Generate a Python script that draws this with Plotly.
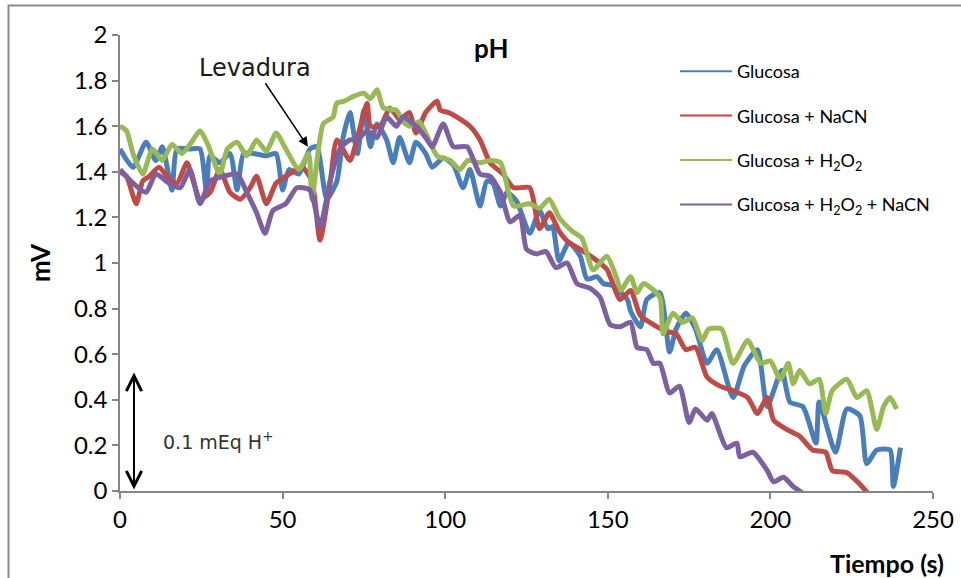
import plotly.graph_objects as go

# Time (s) and signal (mV) for each condition
t_glucosa = [0, 4, 8, 11, 13, 16, 17.5, 21.5, 24.6, 26.6, 27.7, 30.7, 33.8, 36, 38, 41, 45, 48, 50, 52,
             55, 58.4, 60.5, 63.6, 66.7, 68.6, 70.7, 73, 75, 77, 79, 82, 84, 86, 89, 91, 94, 96, 99.4,
             102.5, 105.5, 107.6, 110.7, 112.8, 114.7, 117, 119, 122, 126, 129, 131.6, 133, 135, 138,
             141.5, 143.6, 146.7, 148.6, 151.6, 156, 157, 160, 162, 166, 169, 171, 174, 177, 180.5,
             183.5, 188.5, 192, 196, 199, 203.5, 206, 210, 214, 215, 220, 223.5, 227.5, 229.6, 232.7,
             236.8, 237.8, 240]
v_glucosa = [1.50, 1.42, 1.53, 1.45, 1.51, 1.32, 1.50, 1.50, 1.50, 1.31, 1.47, 1.44, 1.48, 1.32, 1.48,
             1.48, 1.47, 1.48, 1.32, 1.41, 1.39, 1.50, 1.51, 1.28, 1.36, 1.55, 1.66, 1.48, 1.67, 1.51,
             1.61, 1.54, 1.44, 1.55, 1.44, 1.53, 1.48, 1.42, 1.46, 1.43, 1.33, 1.41, 1.25, 1.36, 1.35,
             1.25, 1.31, 1.27, 1.13, 1.23, 1.15, 1.16, 1.01, 1.09, 1.03, 0.93, 0.94, 0.91, 0.90, 0.84,
             0.79, 0.72, 0.84, 0.87, 0.61, 0.71, 0.78, 0.71, 0.56, 0.62, 0.41, 0.55, 0.62, 0.37, 0.53,
             0.39, 0.37, 0.21, 0.39, 0.17, 0.36, 0.33, 0.12, 0.18, 0.18, 0.02, 0.19]

t_nacn = [0, 2, 5, 7, 9, 12, 15, 17.5, 20.6, 22.5, 24.6, 27.7, 30.7, 33.8, 37, 40, 42, 45, 48, 52, 56,
          59, 61.5, 64.6, 66.7, 70.7, 73, 76, 77, 80, 83, 86, 89, 91, 94, 97.5, 98.5, 101, 103.6,
          107.6, 110.7, 113.8, 117.8, 121, 126, 129, 132, 135, 138, 141.5, 146.7, 149.8, 153.8, 157,
          160, 164, 168, 171, 174, 177, 180.5, 184.5, 188.5, 193, 196, 199, 201, 205, 209, 213, 217,
          219, 223.5, 227.5, 230]
v_nacn = [1.40, 1.38, 1.26, 1.36, 1.38, 1.42, 1.37, 1.35, 1.44, 1.36, 1.28, 1.31, 1.41, 1.31, 1.28,
          1.33, 1.38, 1.26, 1.35, 1.39, 1.42, 1.36, 1.10, 1.35, 1.54, 1.45, 1.55, 1.70, 1.60, 1.60,
          1.68, 1.63, 1.66, 1.57, 1.66, 1.71, 1.67, 1.66, 1.64, 1.60, 1.54, 1.44, 1.39, 1.33, 1.33,
          1.15, 1.22, 1.14, 1.09, 1.06, 1.01, 0.97, 0.84, 0.88, 0.77, 0.73, 0.70, 0.69, 0.62, 0.63,
          0.50, 0.46, 0.44, 0.41, 0.34, 0.41, 0.31, 0.27, 0.24, 0.18, 0.17, 0.09, 0.08, 0.03, -0.01]

t_h2o2 = [0, 2, 4, 7, 10, 13, 16, 19, 22, 24.6, 27, 30.7, 33, 36, 39, 42, 45, 48, 51, 55, 58, 59,
          62.5, 65.5, 66.6, 69, 71.7, 75, 77, 79, 81, 85, 87, 89, 92, 94, 97.5, 101.5, 104.5, 107,
          110.7, 113.8, 117, 121, 126, 129, 132, 135, 139, 142, 145.5, 149.7, 152.8, 154, 157, 159,
          161, 166, 167, 170, 173, 176, 179, 181, 185, 188.5, 193, 197, 200, 203, 205.5, 207, 209,
          212, 215, 217, 219, 223.5, 226.6, 229.6, 232.7, 234.8, 236.8, 238.8]
v_h2o2 = [1.60, 1.58, 1.48, 1.39, 1.50, 1.45, 1.52, 1.48, 1.53, 1.58, 1.52, 1.39, 1.50, 1.53, 1.47,
          1.54, 1.49, 1.57, 1.50, 1.41, 1.48, 1.28, 1.61, 1.64, 1.70, 1.71, 1.73, 1.745, 1.72, 1.76,
          1.68, 1.67, 1.62, 1.60, 1.62, 1.57, 1.47, 1.45, 1.41, 1.45, 1.44, 1.45, 1.44, 1.25, 1.26,
          1.24, 1.28, 1.20, 1.14, 1.11, 0.97, 1.03, 0.93, 0.88, 0.94, 0.87, 0.91, 0.85, 0.69, 0.78,
          0.74, 0.76, 0.66, 0.71, 0.71, 0.56, 0.66, 0.56, 0.57, 0.49, 0.56, 0.47, 0.53, 0.47, 0.49,
          0.34, 0.44, 0.49, 0.41, 0.44, 0.27, 0.37, 0.41, 0.36]

t_h2o2_nacn = [0, 4, 8, 11, 15, 18.5, 21.5, 24.6, 27.7, 31.7, 36, 39, 42, 44.6, 47, 51, 54.4, 58.4,
               61.5, 64.6, 67.6, 70.7, 73, 76, 79, 82, 85, 87, 91, 94, 96, 99.4, 102.5, 106.7, 110.7,
               113.8, 117, 120, 123, 125, 128, 131, 134, 137.5, 140.5, 144.5, 147.6, 150.7, 153.8,
               157, 159, 162, 164, 166, 169, 172, 175, 177, 180.5, 182, 186.5, 189.7, 190.6, 194.6,
               199, 201, 204, 207, 210]
v_h2o2_nacn = [1.41, 1.35, 1.31, 1.39, 1.35, 1.33, 1.41, 1.26, 1.36, 1.38, 1.39, 1.31, 1.22, 1.13,
               1.23, 1.26, 1.33, 1.32, 1.16, 1.36, 1.50, 1.54, 1.54, 1.58, 1.55, 1.64, 1.60, 1.64,
               1.60, 1.55, 1.51, 1.61, 1.51, 1.51, 1.39, 1.38, 1.31, 1.18, 1.21, 1.06, 1.04, 1.05,
               0.98, 1.00, 0.91, 0.89, 0.85, 0.73, 0.72, 0.74, 0.63, 0.62, 0.56, 0.56, 0.43, 0.46,
               0.30, 0.36, 0.31, 0.34, 0.19, 0.21, 0.15, 0.17, 0.09, 0.04, 0.06, 0.02, -0.01]

series_names = ["Glucosa", "Glucosa + NaCN", "Glucosa + H<sub>2</sub>O<sub>2</sub>",
                "Glucosa + H<sub>2</sub>O<sub>2</sub> + NaCN"]
series_colors = ["#4A7EBB", "#BE4B48", "#98B954", "#7D60A0"]
series_data = [(t_glucosa, v_glucosa), (t_nacn, v_nacn), (t_h2o2, v_h2o2), (t_h2o2_nacn, v_h2o2_nacn)]

x_ticks = [0, 50, 100, 150, 200, 250]
y_ticks = [0, 0.2, 0.4, 0.6, 0.8, 1, 1.2, 1.4, 1.6, 1.8, 2]
y_tick_text = ["0", "0.2", "0.4", "0.6", "0.8", "1", "1.2", "1.4", "1.6", "1.8", "2"]

W, H = 961, 578
ML, MR, MT, MB = 120, 28, 35, 87
PW, PH = W - ML - MR, H - MT - MB


def px_x(p):
    return (p - ML) / PW


def px_y(p):
    return (H - MB - p) / PH


FONT = "Lato, Open Sans, sans-serif"

fig = go.Figure()
for i, ((t, v), name, color) in enumerate(zip(series_data, series_names, series_colors)):
    # data curve (thick), kept out of the legend
    fig.add_trace(go.Scatter(
        x=t, y=v, mode="lines", name=name, legendgroup=f"g{i}", showlegend=False,
        line=dict(color=color, width=5, shape="spline", smoothing=0.6),
    ))
    # thin legend key for the same series
    fig.add_trace(go.Scatter(
        x=[None], y=[None], mode="lines", name=name, legendgroup=f"g{i}", showlegend=True,
        line=dict(color=color, width=2),
    ))

fig.update_layout(
    width=W, height=H, autosize=False,
    margin=dict(l=ML, r=MR, t=MT, b=MB, pad=0, autoexpand=False),
    paper_bgcolor="white", plot_bgcolor="white",
    font=dict(family=FONT, size=19, color="#000000"),
    showlegend=True,
    legend=dict(
        x=px_x(675), y=px_y(53), xanchor="left", yanchor="top",
        bgcolor="rgba(0,0,0,0)", borderwidth=0,
        font=dict(family=FONT, size=18, color="#000000"),
        traceorder="grouped", tracegroupgap=18, itemwidth=52,
    ),
    xaxis=dict(
        range=[0, 250], tickmode="array", tickvals=x_ticks,
        ticktext=[str(v) for v in x_ticks], automargin=False,
        showgrid=False, zeroline=False, showline=True, linecolor="#868686", linewidth=1.5,
        ticks="outside", ticklen=6, tickcolor="#868686", tickwidth=1.5,
        tickfont=dict(family=FONT, size=24),
    ),
    yaxis=dict(
        range=[0, 2], tickmode="array", tickvals=y_ticks, ticktext=y_tick_text, automargin=False,
        showgrid=False, zeroline=False, showline=True, linecolor="#868686", linewidth=1.5,
        ticks="outside", ticklen=6, tickcolor="#868686", tickwidth=1.5,
        tickfont=dict(family=FONT, size=24),
    ),
)

# Outer chart frame (left and top edges visible)
fig.add_shape(type="rect", xref="paper", yref="paper",
              x0=px_x(8.5), x1=px_x(990), y0=px_y(600), y1=px_y(5.5),
              line=dict(color="#8C8C8C", width=2), fillcolor="rgba(0,0,0,0)", layer="below")

# Titles
fig.add_annotation(text="<b>pH</b>", xref="paper", yref="paper", x=px_x(491), y=px_y(48),
                   xanchor="center", yanchor="middle", showarrow=False,
                   font=dict(family=FONT, size=26))
fig.add_annotation(text="<b>mV</b>", xref="paper", yref="paper", x=px_x(40), y=px_y(263),
                   xanchor="center", yanchor="middle", showarrow=False, textangle=-90,
                   font=dict(family=FONT, size=26))
fig.add_annotation(text="<b>Tiempo (s)</b>", xref="paper", yref="paper", x=px_x(887), y=px_y(563),
                   xanchor="center", yanchor="middle", showarrow=False,
                   font=dict(family=FONT, size=25))

# Yeast addition marker
fig.add_annotation(text="Levadura", x=57.8, y=1.51, xref="x", yref="y",
                   ax=255 - 308, ay=68 - 147, axref="pixel", ayref="pixel",
                   showarrow=True, arrowhead=2, arrowsize=1.3, arrowwidth=1.5, arrowcolor="#000000",
                   font=dict(family="DejaVu Sans", size=24, color="#1a1a1a"))

# Scale bar: 0.1 mEq H+
fig.add_annotation(x=4.3, y=0.52, xref="x", yref="y", ax=4.3, ay=0.0, axref="x", ayref="y",
                   text="", showarrow=True, arrowside="end+start",
                   arrowhead=5, startarrowhead=5, arrowsize=1.5, startarrowsize=1.5,
                   arrowwidth=2, arrowcolor="#000000")
fig.add_annotation(text="0.1 mEq H<sup>+</sup>", xref="paper", yref="paper",
                   x=px_x(218), y=px_y(441), xanchor="center", yanchor="middle", showarrow=False,
                   font=dict(family="DejaVu Sans", size=19, color="#333333"))

fig.write_html("out.html")
